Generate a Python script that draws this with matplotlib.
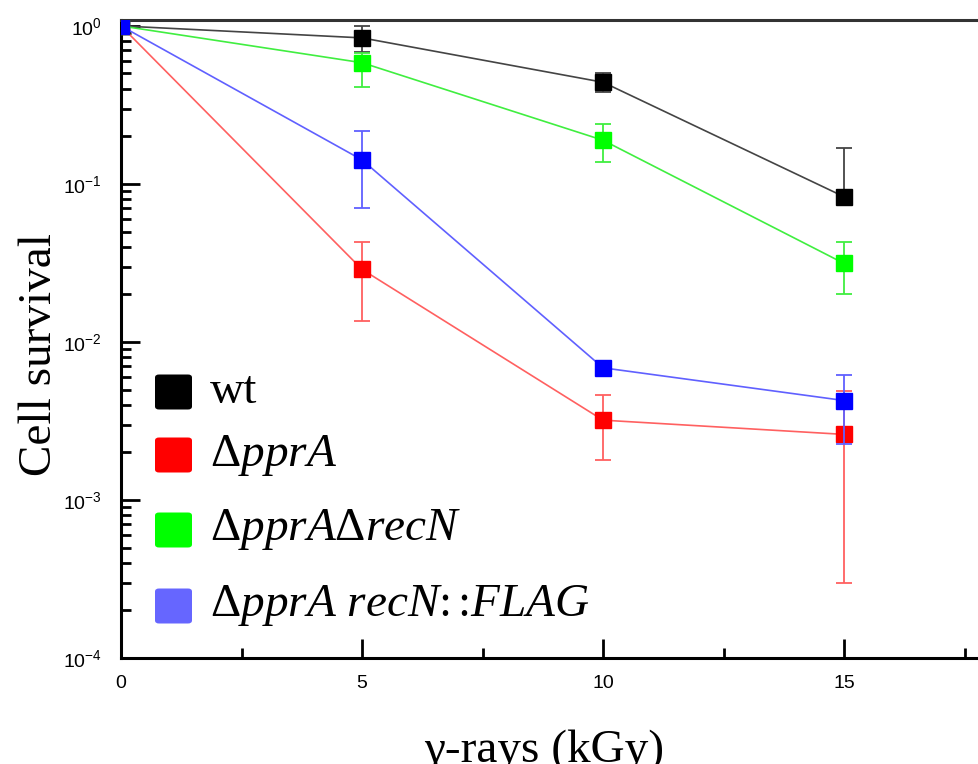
import matplotlib
matplotlib.use("Agg")
import matplotlib.pyplot as plt
from matplotlib.patches import FancyBboxPatch
from matplotlib.ticker import LogLocator, FixedLocator

plt.rcParams['font.family'] = ['Liberation Sans', 'DejaVu Sans']
plt.rcParams['mathtext.fontset'] = 'custom'
plt.rcParams['mathtext.rm'] = 'Liberation Serif'
plt.rcParams['mathtext.it'] = 'Liberation Serif:italic'

dose = [0, 5, 10, 15]

wt = [1.0, 0.84, 0.44, 0.083]
wt_lo = [0.0, 0.16, 0.06, 0.004]
wt_hi = [0.0, 0.16, 0.06, 0.085]

ppra = [1.0, 0.0288, 0.0032, 0.0026]
ppra_lo = [0.0, 0.0152, 0.0014, 0.0023]
ppra_hi = [0.0, 0.0144, 0.0014, 0.0023]

ppra_recn = [1.0, 0.585, 0.189, 0.0314]
ppra_recn_lo = [0.0, 0.175, 0.052, 0.0114]
ppra_recn_hi = [0.0, 0.085, 0.049, 0.0112]

ppra_flag = [1.0, 0.142, 0.00686, 0.00426]
ppra_flag_lo = [0.0, 0.072, 0.0002, 0.0020]
ppra_flag_hi = [0.0, 0.073, 0.0002, 0.0019]

legend_labels = ['wt', 'Δ$\\mathit{pprA}$', 'Δ$\\mathit{pprA}$Δ$\\mathit{recN}$',
                 'Δ$\\mathit{pprA}$ $\\mathit{recN}$:$\\,$:$\\mathit{FLAG}$']

series = [
    (wt, wt_lo, wt_hi, '#000000', '#444444', '#444444'),
    (ppra, ppra_lo, ppra_hi, '#ff0000', '#ff6060', '#ff6060'),
    (ppra_recn, ppra_recn_lo, ppra_recn_hi, '#00ff00', '#40ee40', '#40ee40'),
    (ppra_flag, ppra_flag_lo, ppra_flag_hi, '#0000ff', '#6060ff', '#6060ff'),
]
legend_colors = ['#000000', '#ff0000', '#00ff00', '#6666ff']

W, H = 979, 764
fig = plt.figure(figsize=(W / 100, H / 100), dpi=100)
left, right, top, bottom = 121, 979, 20, 658
ax = fig.add_axes([left / W, (H - bottom) / H, (right - left) / W, (bottom - top) / H])

for i, (y, lo, hi, mc, lc, ec) in enumerate(series):
    ax.errorbar(dose, y, yerr=[lo, hi], fmt='s-', color=lc, ecolor=ec,
                markerfacecolor=mc, markeredgecolor=mc, markersize=11,
                linewidth=1.2, elinewidth=1.3, capsize=6, capthick=1.3,
                zorder=3 + i)

ax.set_yscale('log')
ax.set_ylim(1e-4, 1.09)
ax.set_xlim(0, 17.8)

ax.xaxis.set_major_locator(FixedLocator([0, 5, 10, 15]))
ax.xaxis.set_minor_locator(FixedLocator([2.5, 7.5, 12.5, 17.5]))
ax.yaxis.set_major_locator(LogLocator(base=10, numticks=10))
ax.yaxis.set_minor_locator(LogLocator(base=10, subs=range(2, 10), numticks=10))

ax.tick_params(axis='both', which='major', direction='in', length=14, width=2,
               labelsize=14, top=False, right=False)
ax.tick_params(axis='both', which='minor', direction='in', length=7, width=2,
               top=False, right=False)
ax.tick_params(axis='x', which='major', pad=12)
ax.tick_params(axis='y', which='major', pad=14)

for s in ['left', 'bottom']:
    ax.spines[s].set_linewidth(2.2)
ax.spines['top'].set_linewidth(2.2)
ax.spines['top'].set_color('#333333')
ax.spines['right'].set_visible(False)

fig.text(40 / W, (H - 354) / H, 'Cell survival', fontfamily='Liberation Serif',
         fontsize=34, rotation=90, ha='center', va='center')
fig.text(544 / W, (H - 762) / H, 'γ-rays (kGy)', fontfamily='Liberation Serif',
         fontsize=34, ha='center', va='baseline')

# legend drawn manually
sq_x0, sq_w, sq_h = 155, 37, 35
centers = [392, 455, 530, 606]
for lab, col, cy in zip(legend_labels, legend_colors, centers):
    p = FancyBboxPatch(((sq_x0) / W, (H - cy - sq_h / 2) / H), sq_w / W, sq_h / H,
                       boxstyle='round,pad=0,rounding_size=0.004',
                       transform=fig.transFigure, facecolor=col, edgecolor='none',
                       zorder=10)
    fig.patches.append(p)
    fig.text(210 / W, (H - cy) / H, lab, fontfamily='Liberation Serif', fontsize=34,
             ha='left', va='center', zorder=10)

fig.savefig('out.png', dpi=100)
